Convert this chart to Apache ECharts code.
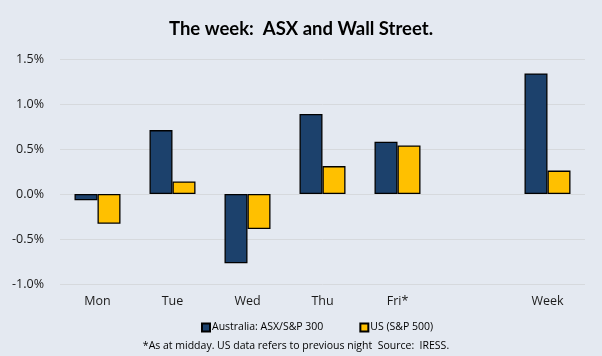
<!DOCTYPE html>
<html><head><meta charset="utf-8">
<script src="https://cdn.jsdelivr.net/npm/echarts@6/dist/echarts.min.js"></script>
<style>html,body{margin:0;padding:0;background:#e4e9f1;}#c{width:602px;height:356px;}</style>
</head><body><div id="c"></div>
<script>
var categories = ['Mon','Tue','Wed','Thu','Fri*','','Week'];
var australia = [-0.07, 0.71, -0.77, 0.89, 0.58, null, 1.34];
var us = [-0.33, 0.14, -0.39, 0.31, 0.54, null, 0.26];
var seriesNames = ['Australia: ASX/S&P 300', 'US (S&P 500)'];
var yTicks = {min: -1.0, max: 1.5, interval: 0.5};
var titleText = 'The week:  ASX and Wall Street.';
var footnote = '*As at midday. US data refers to previous night  Source:  IRESS.';

var chart = echarts.init(document.getElementById('c'), null, {renderer: 'canvas'});
var font = 'Open Sans';
chart.setOption({
  backgroundColor: '#e4e9f1',
  animation: false,
  title: [{
    text: titleText, left: 'center', top: 15,
    textStyle: {fontFamily: 'Lato', fontSize: 18.5, fontWeight: 'bold', color: '#000'}
  }, {
    text: footnote, left: 291, textAlign: 'center', top: 336,
    textStyle: {fontFamily: font, fontSize: 10.5, fontWeight: 'normal', color: '#000'}
  }],
  legend: {
    data: seriesNames, left: 196, top: 317, itemWidth: 8, itemHeight: 8, itemGap: 36,
    icon: 'rect',
    textStyle: {fontFamily: font, fontSize: 10.5, color: '#000', padding: [0,0,0,-3]}
  },
  grid: {left: 60, right: 17, top: 59, bottom: 72, containLabel: false},
  xAxis: {
    type: 'category', data: categories,
    axisLine: {show: false}, axisTick: {show: false},
    axisLabel: {fontFamily: font, fontSize: 12.5, color: '#1a1a1a', margin: 11}
  },
  yAxis: {
    type: 'value', min: yTicks.min, max: yTicks.max, interval: yTicks.interval,
    axisLine: {show: false}, axisTick: {show: false},
    axisLabel: {fontFamily: font, fontSize: 12.5, color: '#1a1a1a', margin: 16,
      formatter: function(v){ return v.toFixed(1) + '%'; }},
    splitLine: {lineStyle: {color: '#d6d9dd', width: 1}}
  },
  series: [{
    name: seriesNames[0], type: 'bar', data: australia, barWidth: 23, barGap: '0%',
    itemStyle: {color: '#1c416c', borderColor: '#000', borderWidth: 1.3}
  }, {
    name: seriesNames[1], type: 'bar', data: us, barWidth: 23, barGap: '0%',
    itemStyle: {color: '#ffc000', borderColor: '#000', borderWidth: 1.3}
  }]
});
</script></body></html>
